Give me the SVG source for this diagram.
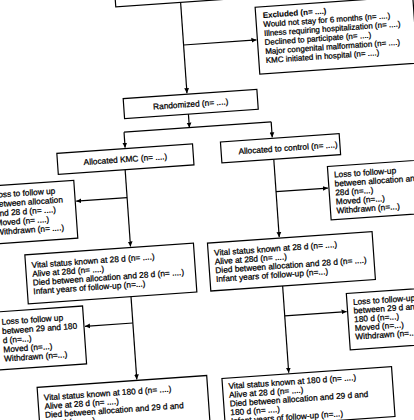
<svg xmlns="http://www.w3.org/2000/svg" width="414" height="420" viewBox="0 0 414 420">
<style>
.box{fill:#fff;stroke:#000;stroke-width:1.2}
.t{font-family:"Liberation Sans",Arial,sans-serif;font-size:8.3px;fill:#000;stroke:#000;stroke-width:0.25}
.s{font-size:8px}
.b{font-weight:bold;stroke-width:0.1}
.c{text-anchor:middle}
.ln{stroke:#000;stroke-width:1.2;fill:none}
</style>
<defs>
<marker id="ah" markerWidth="6" markerHeight="6" refX="5" refY="3" orient="auto" markerUnits="userSpaceOnUse"><path d="M0,0.6 L5,3 L0,5.4 z" fill="#000"/></marker>
</defs>
<rect width="414" height="420" fill="#fff"/>
<g transform="rotate(-4)">
<g id="connectors">
<path class="ln" d="M180,15 V106" marker-end="url(#ah)"/>
<path class="ln" d="M180,57.7 H253" marker-end="url(#ah)"/>
<path class="ln" d="M180,127 V140.5" marker-end="url(#ah)"/>
<path class="ln" d="M114.5,140.5 H262"/>
<path class="ln" d="M114.5,140.5 V156" marker-end="url(#ah)"/>
<path class="ln" d="M262,140.5 V156" marker-end="url(#ah)"/>
<path class="ln" d="M113,178 V255" marker-end="url(#ah)"/>
<path class="ln" d="M113,206 H62" marker-end="url(#ah)"/>
<path class="ln" d="M110,305 V388" marker-end="url(#ah)"/>
<path class="ln" d="M110,331.5 H62" marker-end="url(#ah)"/>
<path class="ln" d="M262,178 V256" marker-end="url(#ah)"/>
<path class="ln" d="M262,210.5 H314" marker-end="url(#ah)"/>
<path class="ln" d="M262,305 V392" marker-end="url(#ah)"/>
<path class="ln" d="M262,335 H324" marker-end="url(#ah)"/>
</g>
<g id="top"><rect class="box" x="115" y="-25" width="135" height="40"/></g>
<g id="excluded">
<rect class="box" x="254" y="25" width="158" height="67"/>
<text class="t s b" x="261" y="36.3">Excluded (n= ....)</text>
<text class="t s" x="261" y="45.4">Would not stay for 6 months (n= ....)</text>
<text class="t s" x="261" y="54.4">Illness requiring hospitalization (n= ....)</text>
<text class="t s" x="261" y="63.4">Declined to participate (n= ....)</text>
<text class="t s" x="261" y="72.5">Major congenital malformation (n= ....)</text>
<text class="t s" x="261" y="81.5">KMC initiated in hospital (n= ....)</text>
</g>
<g id="randomized">
<rect class="box" x="116" y="107" width="134" height="20"/>
<text class="t c" x="183" y="120">Randomized (n= ....)</text>
</g>
<g id="kmc">
<rect class="box" x="46" y="157" width="136" height="21"/>
<text class="t c" x="114" y="170.5">Allocated KMC (n= ....)</text>
</g>
<g id="control">
<rect class="box" x="210" y="157" width="119" height="21"/>
<text class="t c" x="277" y="170.5">Allocated to control (n= ....)</text>
</g>
<g id="lossL1">
<rect class="box" x="-30" y="185" width="91" height="58"/>
<text class="t" x="-20" y="197">Loss to follow up</text>
<text class="t" x="-20" y="206.3">between allocation</text>
<text class="t" x="-20" y="215.6">and 28 d (n= ....)</text>
<text class="t" x="-20" y="224.9">Moved (n= ....)</text>
<text class="t" x="-20" y="234.2">Withdrawn (n= ....)</text>
</g>
<g id="lossR1">
<rect class="box" x="315" y="189" width="110" height="53.5"/>
<text class="t" x="321" y="200.5">Loss to follow-up</text>
<text class="t" x="321" y="209.5">between allocation and</text>
<text class="t" x="321" y="218.5">28d (n=...)</text>
<text class="t" x="321" y="227.5">Moved (n=...)</text>
<text class="t" x="321" y="236.5">Withdrawn (n=...)</text>
</g>
<g id="vital28L">
<rect class="box" x="7" y="256" width="169" height="49"/>
<text class="t" x="13" y="269.5">Vital status known at 28 d (n= ....)</text>
<text class="t" x="13" y="278.3">Alive at 28d (n= ....)</text>
<text class="t" x="13" y="287.1">Died between allocation and 28 d (n= ....)</text>
<text class="t" x="13" y="295.9">Infant years of follow-up (n=...)</text>
</g>
<g id="vital28R">
<rect class="box" x="190" y="257" width="165" height="48"/>
<text class="t" x="196" y="270">Vital status known at 28 d (n= ....)</text>
<text class="t" x="196" y="278.8">Alive at 28d (n= ....)</text>
<text class="t" x="196" y="287.6">Died between allocation and 28 d (n= ....)</text>
<text class="t" x="196" y="296.4">Infant years of follow-up (n=...)</text>
</g>
<g id="lossL2">
<rect class="box" x="-30" y="311" width="91" height="58"/>
<text class="t" x="-21" y="324">Loss to follow up</text>
<text class="t" x="-21" y="333.3">between 29 and 180</text>
<text class="t" x="-21" y="342.5">d (n=...)</text>
<text class="t" x="-21" y="351.8">Moved (n=...)</text>
<text class="t" x="-21" y="361">Withdrawn (n=...)</text>
</g>
<g id="lossR2">
<rect class="box" x="325" y="317" width="110" height="56.5"/>
<text class="t" x="331" y="328.8">Loss to follow-up</text>
<text class="t" x="331" y="337.5">between 29 d and</text>
<text class="t" x="331" y="346.2">180 d (n=...)</text>
<text class="t" x="331" y="354.9">Moved (n=...)</text>
<text class="t" x="331" y="363.6">Withdrawn (n=...)</text>
</g>
<g id="vital180L">
<rect class="box" x="10" y="389" width="170" height="50"/>
<text class="t" x="16" y="402.6">Vital status known at 180 d (n= ....)</text>
<text class="t" x="16" y="411.3">Alive at 28 d (n= ....)</text>
<text class="t" x="16" y="420">Died between allocation and 29 d and</text>
<text class="t" x="16" y="428.7">180 d (n= ....)</text>
</g>
<g id="vital180R">
<rect class="box" x="195" y="393" width="170" height="50"/>
<text class="t" x="201" y="404">Vital status known at 180 d (n= ....)</text>
<text class="t" x="201" y="412.8">Alive at 28 d (n= ....)</text>
<text class="t" x="201" y="421.6">Died between allocation and 29 d and</text>
<text class="t" x="201" y="430.4">180 d (n= ....)</text>
<text class="t" x="201" y="439.2">Infant years of follow-up (n=...)</text>
</g>
</g>
</svg>
